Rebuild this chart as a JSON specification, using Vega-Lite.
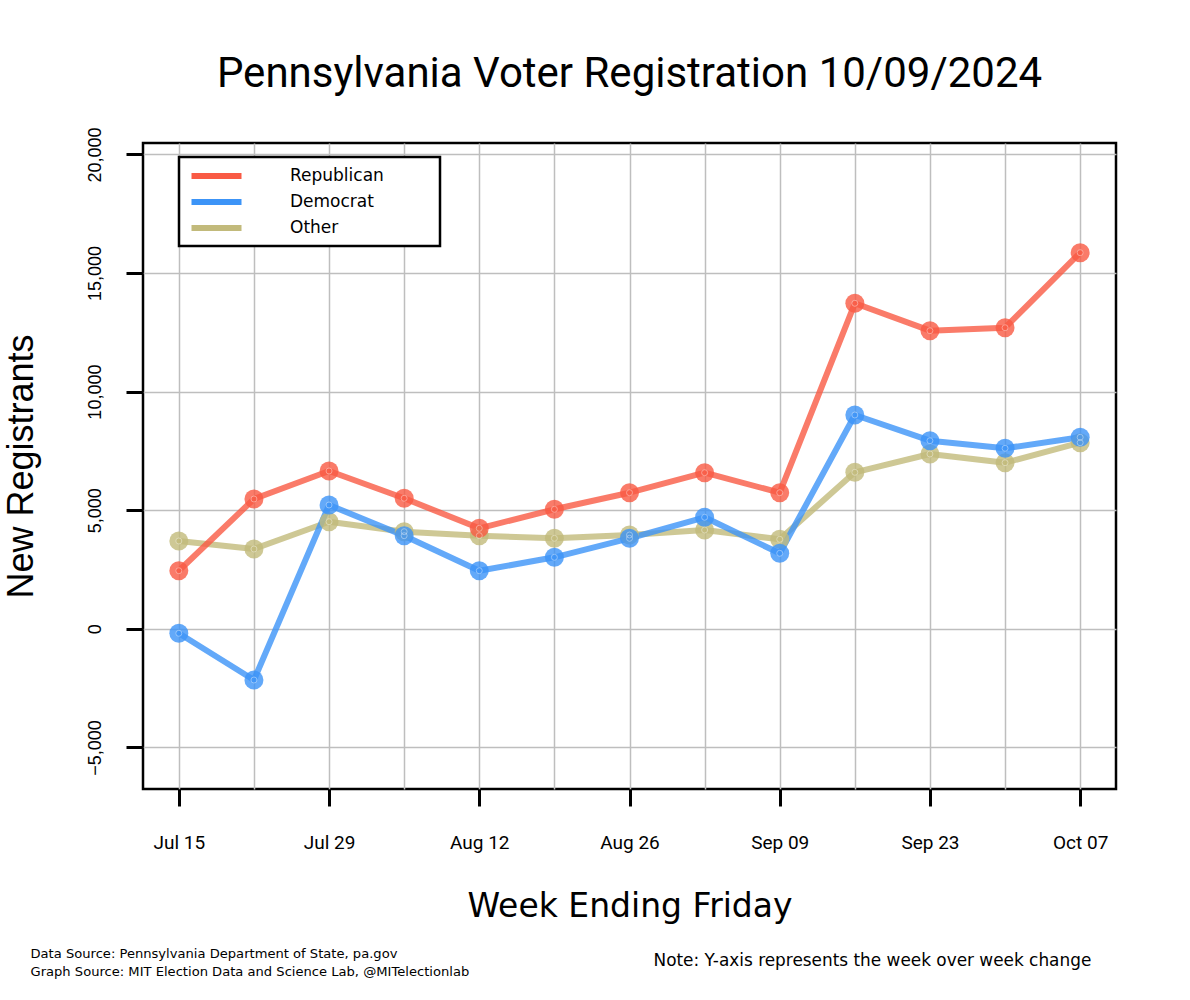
{
  "$schema": "https://vega.github.io/schema/vega-lite/v6.json",
  "width": 973,
  "height": 646,
  "autosize": {"type": "none"},
  "padding": {"left": 143, "top": 143, "right": 74, "bottom": 211},
  "background": "white",
  "title": {
    "text": "Pennsylvania Voter Registration 10/09/2024",
    "anchor": "middle",
    "font": "Roboto",
    "fontSize": 42,
    "fontWeight": "normal",
    "color": "black",
    "offset": 31
  },
  "config": {
    "view": {"stroke": "black", "strokeWidth": 2.5},
    "legend": {"strokeWidth": 2.5}
  },
  "data": {
    "values": [
      {"week": "Jul 15", "party": "Other", "value": 3702},
      {"week": "Jul 22", "party": "Other", "value": 3364},
      {"week": "Jul 29", "party": "Other", "value": 4515},
      {"week": "Aug 05", "party": "Other", "value": 4094},
      {"week": "Aug 12", "party": "Other", "value": 3925},
      {"week": "Aug 19", "party": "Other", "value": 3815},
      {"week": "Aug 26", "party": "Other", "value": 3955},
      {"week": "Sep 02", "party": "Other", "value": 4165},
      {"week": "Sep 09", "party": "Other", "value": 3773},
      {"week": "Sep 16", "party": "Other", "value": 6598},
      {"week": "Sep 23", "party": "Other", "value": 7370},
      {"week": "Sep 30", "party": "Other", "value": 7003},
      {"week": "Oct 07", "party": "Other", "value": 7846},
      {"week": "Jul 15", "party": "Democrat", "value": -190},
      {"week": "Jul 22", "party": "Democrat", "value": -2159},
      {"week": "Jul 29", "party": "Democrat", "value": 5219},
      {"week": "Aug 05", "party": "Democrat", "value": 3925},
      {"week": "Aug 12", "party": "Democrat", "value": 2449},
      {"week": "Aug 19", "party": "Democrat", "value": 3014},
      {"week": "Aug 26", "party": "Democrat", "value": 3815},
      {"week": "Sep 02", "party": "Democrat", "value": 4701},
      {"week": "Sep 09", "party": "Democrat", "value": 3183},
      {"week": "Sep 16", "party": "Democrat", "value": 9014},
      {"week": "Sep 23", "party": "Democrat", "value": 7930},
      {"week": "Sep 30", "party": "Democrat", "value": 7610},
      {"week": "Oct 07", "party": "Democrat", "value": 8074},
      {"week": "Jul 15", "party": "Republican", "value": 2449},
      {"week": "Jul 22", "party": "Republican", "value": 5472},
      {"week": "Jul 29", "party": "Republican", "value": 6653},
      {"week": "Aug 05", "party": "Republican", "value": 5502},
      {"week": "Aug 12", "party": "Republican", "value": 4237},
      {"week": "Aug 19", "party": "Republican", "value": 5038},
      {"week": "Aug 26", "party": "Republican", "value": 5738},
      {"week": "Sep 02", "party": "Republican", "value": 6581},
      {"week": "Sep 09", "party": "Republican", "value": 5738},
      {"week": "Sep 16", "party": "Republican", "value": 13723},
      {"week": "Sep 23", "party": "Republican", "value": 12568},
      {"week": "Sep 30", "party": "Republican", "value": 12694},
      {"week": "Oct 07", "party": "Republican", "value": 15857}
    ]
  },
  "resolve": {"axis": {"x": "independent", "y": "independent"}},
  "layer": [
    {
      "mark": {"type": "line", "strokeWidth": 6, "opacity": 0.8, "strokeJoin": "round", "strokeCap": "round"},
      "encoding": {
        "x": {
          "field": "week",
          "type": "ordinal",
          "scale": {"type": "point", "padding": 0.477, "domain": ["Jul 15","Jul 22","Jul 29","Aug 05","Aug 12","Aug 19","Aug 26","Sep 02","Sep 09","Sep 16","Sep 23","Sep 30","Oct 07"]},
          "axis": {
            "orient": "bottom",
            "grid": true,
            "gridColor": "#BEBEBE",
            "gridWidth": 1.5,
            "domain": false,
            "ticks": true,
            "tickSize": 17,
            "tickWidth": 3,
            "tickColor": "black",
            "tickOpacity": {"condition": {"test": "indexof(['Jul 15','Jul 29','Aug 12','Aug 26','Sep 09','Sep 23','Oct 07'], datum.value) >= 0", "value": 1}, "value": 0},
            "labelExpr": "indexof(['Jul 15','Jul 29','Aug 12','Aug 26','Sep 09','Sep 23','Oct 07'], datum.value) >= 0 ? datum.value : ''",
            "labelOverlap": false,
            "labelAngle": 0,
            "labelFont": "Roboto",
            "labelFontSize": 19,
            "labelFontWeight": "normal",
            "labelColor": "black",
            "labelPadding": 27,
            "title": "Week Ending Friday",
            "titleFont": "DejaVu Sans",
            "titleFontSize": 33,
            "titleFontWeight": "normal",
            "titleColor": "black",
            "titlePadding": 38
          }
        },
        "y": {
          "field": "value",
          "type": "quantitative",
          "scale": {"domain": [-6754, 20481], "nice": false, "zero": false},
          "axis": {
            "orient": "left",
            "values": [-5000, 0, 5000, 10000, 15000, 20000],
            "labelExpr": "format(datum.value, ',')",
            "grid": true,
            "gridColor": "#BEBEBE",
            "gridWidth": 1.5,
            "domain": false,
            "tickSize": 17,
            "tickWidth": 3,
            "tickColor": "black",
            "labelAngle": -90,
            "labelAlign": "center",
            "labelBaseline": "bottom",
            "labelFont": "Liberation Sans",
            "labelFontSize": 18,
            "labelColor": "black",
            "labelPadding": 22,
            "title": "New Registrants",
            "titleFont": "Liberation Sans",
            "titleFontSize": 36,
            "titleFontWeight": "normal",
            "titleColor": "black",
            "titlePadding": 46
          }
        },
        "color": {
          "field": "party",
          "type": "nominal",
          "scale": {"domain": ["Republican", "Democrat", "Other"], "range": ["#F95A44", "#3C94F7", "#C2BA7B"]},
          "legend": {
            "orient": "none",
            "legendX": 36,
            "legendY": 14,
            "title": null,
            "symbolType": "M-2.381,0H2.381",
            "symbolSize": 441,
            "symbolStrokeWidth": 6,
            "symbolOpacity": 1,
            "symbolOffset": 18.5,
            "labelOffset": 60,
            "labelFont": "DejaVu Sans",
            "labelFontSize": 17,
            "labelColor": "black",
            "labelExpr": "datum.label + '\u2800\u2800\u2800\u2800'",
            "padding": 5.5,
            "rowPadding": 0,
            "strokeColor": "black",
            "fillColor": "white"
          }
        },
        "order": {"value": null}
      }
    },
    {
      "mark": {"type": "point", "filled": true, "shape": "circle", "size": 360, "opacity": 0.8},
      "encoding": {
        "x": {
          "field": "week",
          "type": "ordinal",
          "axis": {
            "orient": "bottom",
            "grid": false,
            "domain": false,
            "ticks": false,
            "labels": false,
            "title": ["Data Source: Pennsylvania Department of State, pa.gov", "Graph Source: MIT Election Data and Science Lab, @MITelectionlab"],
            "titleFont": "DejaVu Sans",
            "titleFontSize": 13.1,
            "titleFontWeight": "normal",
            "titleColor": "black",
            "titleAlign": "left",
            "titleAnchor": "start",
            "titleAngle": 0,
            "titleBaseline": "top",
            "titleLineHeight": 18,
            "titleX": -113,
            "titleY": 158
          }
        },
        "y": {
          "field": "value",
          "type": "quantitative",
          "axis": {
            "orient": "right",
            "grid": false,
            "domain": false,
            "ticks": false,
            "labels": false,
            "title": "Note: Y-axis represents the week over week change",
            "titleFont": "DejaVu Sans",
            "titleFontSize": 16.9,
            "titleFontWeight": "normal",
            "titleColor": "black",
            "titleAngle": 0,
            "titleAlign": "left",
            "titleBaseline": "top",
            "titleX": -463,
            "titleY": 809
          }
        },
        "color": {"field": "party", "type": "nominal", "legend": null}
      }
    },
    {
      "mark": {"type": "point", "filled": false, "shape": "circle", "size": 36, "stroke": "white", "strokeWidth": 1, "opacity": 0.4},
      "encoding": {
        "x": {"field": "week", "type": "ordinal", "axis": null},
        "y": {"field": "value", "type": "quantitative", "axis": null}
      }
    }
  ]
}
